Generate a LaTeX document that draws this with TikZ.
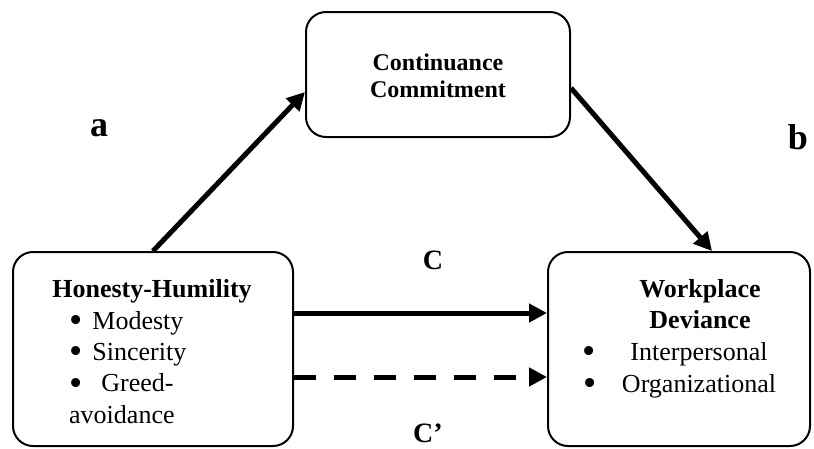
\documentclass[tikz,border=0pt]{standalone}
\usepackage{fontspec}
\setmainfont{Liberation Serif}
\usepackage{graphicx}
\usepackage{tikz}
\usetikzlibrary{arrows.meta,positioning}

\newcommand\bigbullet{\raisebox{-3.5pt}{\scalebox{1.45}{\textbullet}}}

\begin{document}
\begin{tikzpicture} [
  x = 1pt, y = -1pt,
  inner sep = 0,
  box/.style = { draw, line width = 2pt, rounded corners = 20pt },
  link/.style = { line width = 5pt, -{Triangle[length=18pt,width=18pt]} },
  coef/.style = { font = \bfseries\fontsize{36}{40}\selectfont, anchor = base },
  path letter/.style = { font = \bfseries\fontsize{28}{30}\selectfont, anchor = base },
  heading/.style = { font = \bfseries\fontsize{26}{31}\selectfont, align = center, anchor = base },
  item/.style = { font = \fontsize{26}{31.3}\selectfont, anchor = base }
  ]

  \useasboundingbox (0,0) rectangle (814,448);

  \node[box, minimum width = 264pt, minimum height = 125pt] (cc) at (438,74.5) {};
  \node[box, minimum width = 280pt, minimum height = 194pt] (hh) at (153,349) {};
  \node[box, minimum width = 262pt, minimum height = 194pt] (wd) at (679,349) {};

  \node[heading, font = \bfseries\fontsize{24}{27}\selectfont] (cctext) at (438,97) {Continuance\\Commitment};
  \node[heading] (hhtext) at (152,297) {Honesty-Humility};
  \node[item, align = left, anchor = base west] (hhlist) at (69,423)
    {\bigbullet\hspace{10pt}Modesty\\\bigbullet\hspace{10pt}Sincerity\\\bigbullet\hspace{19pt}Greed-\\avoidance};
  \node[heading] (wdtext) at (700,328) {Workplace\\Deviance};
  \node[item] (wdone) at (699,360) {Interpersonal};
  \node[item] (wdtwo) at (699,392) {Organizational};
  \node[item] (wdbulletone) at (589,360) {\bigbullet};
  \node[item] (wdbullettwo) at (590,392) {\bigbullet};

  \draw[link] (hh.north) -- ([yshift=-17.5pt]cc.west);
  \draw[link] ([yshift=-13.5pt]cc.east) -- ([xshift=33pt]wd.north);
  \draw[link] ([yshift=36pt]hh.east) -- ([yshift=36pt]wd.west);
  \draw[link, dash pattern = on 22pt off 18pt] ([yshift=-28pt]hh.east) -- ([yshift=-28pt]wd.west);

  \node[coef] (a) at (99,136) {a};
  \node[coef] (b) at (798,149) {b};
  \node[path letter] (c) at (433,269) {C};
  \node[path letter] (cprime) at (428,442) {C’};
\end{tikzpicture}
\end{document}
